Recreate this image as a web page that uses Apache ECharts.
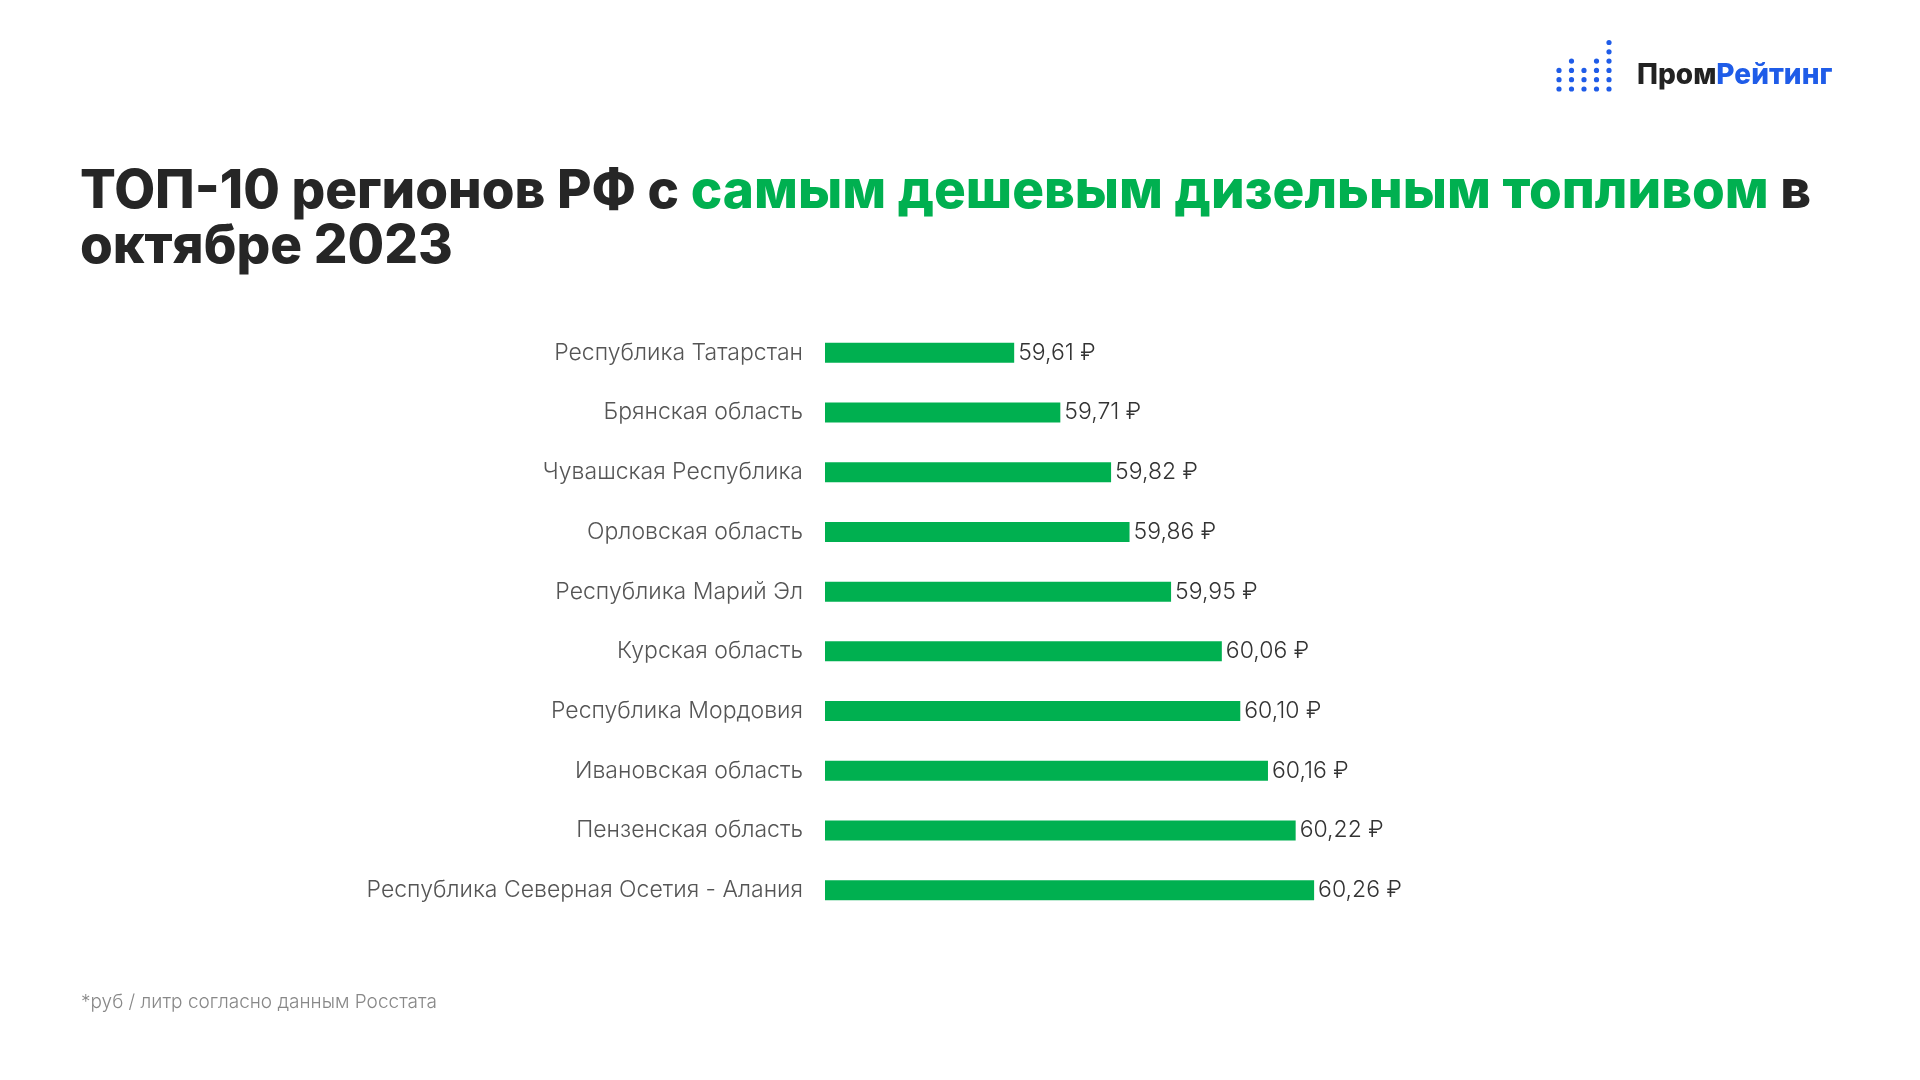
<!DOCTYPE html>
<html><head><meta charset="utf-8">
<script src="https://cdn.jsdelivr.net/npm/echarts@6/dist/echarts.min.js"></script>
<style>html,body{margin:0;padding:0;background:#fff}#c{width:1920px;height:1080px}</style>
</head><body><div id="c"></div>
<script>
const categories = ["Республика Татарстан","Брянская область","Чувашская Республика","Орловская область","Республика Марий Эл","Курская область","Республика Мордовия","Ивановская область","Пензенская область","Республика Северная Осетия - Алания"];
const values = [59.61,59.71,59.82,59.86,59.95,60.06,60.10,60.16,60.22,60.26];
const titleDark1 = "ТОП-10 регионов РФ с ";
const titleGreen = "самым дешевым дизельным топливом";
const titleDark2 = " в";
const titleLine2 = "октябре 2023";
const footnote = "*руб / литр согласно данным Росстата";
const logoDark = "Пром";
const logoBlue = "Рейтинг";
const logoDotCounts = [3,4,3,4,6];

const FONT = "Inter, 'Noto Sans', sans-serif";
const GREEN = "#00b050";
const BLUE = "#1f5ce8";

const dots = [];
logoDotCounts.forEach((n, ci) => {
  for (let r = 0; r < n; r++) {
    dots.push({type:'circle', shape:{cx:1559 + ci*12.5, cy:89 - r*9.3, r:2.6}, style:{fill:BLUE}});
  }
});

const chart = echarts.init(document.getElementById('c'));
chart.setOption({
  backgroundColor:'#fff',
  animation:false,
  title:{
    left:75, top:160,
    text:`{d|${titleDark1}}{g|${titleGreen}}{d|${titleDark2}}\n{d|${titleLine2}}`,
    textStyle:{
      rich:{
        d:{fontFamily:FONT, fontWeight:800, fontSize:53, color:'#262626', lineHeight:55},
        g:{fontFamily:FONT, fontWeight:800, fontSize:53, color:GREEN, lineHeight:55}
      }
    }
  },
  grid:{left:825, right:449, top:323, bottom:160, containLabel:false},
  xAxis:{type:'value', min:59.2, max:60.6, show:false},
  yAxis:{
    type:'category', data:categories, inverse:true,
    axisLine:{show:false}, axisTick:{show:false},
    axisLabel:{fontFamily:FONT, fontSize:23, fontWeight:300, color:'#555', margin:22}
  },
  series:[{
    type:'bar', data:values, barWidth:20,
    itemStyle:{color:GREEN},
    label:{show:true, position:'right', distance:4, fontFamily:FONT, fontSize:23, fontWeight:300, color:'#333',
      formatter:p => p.value.toFixed(2).replace('.', ',') + ' ₽'}
  }],
  graphic:[
    ...dots,
    {type:'text', left:1637, top:62, style:{
      text:`{a|${logoDark}}{b|${logoBlue}}`,
      rich:{a:{fontFamily:FONT, fontWeight:800, fontSize:28, fill:'#222'}, b:{fontFamily:FONT, fontWeight:800, fontSize:28, fill:BLUE}}
    }},
    {type:'text', left:81, top:993, style:{text:footnote, fontFamily:FONT, fontSize:19, fontWeight:300, fill:'#888'}}
  ]
});
</script></body></html>
